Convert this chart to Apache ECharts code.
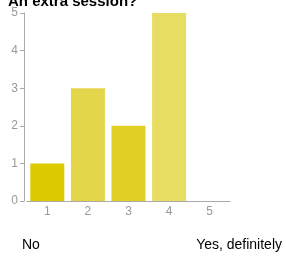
<!DOCTYPE html>
<html>
<head>
<meta charset="utf-8">
<script src="https://cdn.jsdelivr.net/npm/echarts@6/dist/echarts.min.js"></script>
<style>
  html, body { margin: 0; padding: 0; background: #fff; }
  #chart { width: 286px; height: 256px; }
</style>
</head>
<body>
<div id="chart"></div>
<script>
// 数据
var categories = ['1', '2', '3', '4', '5'];
var counts = [1, 3, 2, 5, 0];
var barColors = ['#dccb00', '#e4d64a', '#e0d024', '#e8dd63', '#e8dd63'];
var yTicks = [0, 1, 2, 3, 4, 5];
var scaleLabels = ['No', 'Yes, definitely'];

var _chart = echarts.init(document.getElementById('chart'));

var data_temp = [];
for (var i = 0; i < counts.length; i++) {
    data_temp.push({
        value: counts[i],
        itemStyle: { color: barColors[i] }
    });
}

var option = {
    animation: false,
    title: {
        text: 'An extra session?',
        left: 3,
        top: -11,
        textStyle: { fontFamily: 'Liberation Sans', fontWeight: 'bold', fontSize: 15, color: '#000' }
    },
    grid: { left: 27, right: 56, top: 13, bottom: 55 },
    xAxis: {
        type: 'category',
        data: categories,
        axisLine: { lineStyle: { color: '#aaa', width: 1 } },
        axisTick: { alignWithLabel: true, length: 4, lineStyle: { color: '#aaa' } },
        axisLabel: { color: '#999', fontFamily: 'Liberation Sans', fontSize: 12, margin: 5 }
    },
    yAxis: {
        type: 'value',
        min: yTicks[0],
        max: yTicks[yTicks.length - 1],
        interval: 1,
        offset: 3,
        axisLine: { show: true, lineStyle: { color: '#aaa', width: 1 } },
        axisTick: { show: true, length: 4, lineStyle: { color: '#aaa' } },
        axisLabel: { color: '#999', fontFamily: 'Liberation Sans', fontSize: 12, margin: 6 },
        splitLine: { show: false }
    },
    series: [{
        type: 'bar',
        data: data_temp,
        barWidth: 34
    }],
    graphic: [
        {
            type: 'text', left: 22, top: 238,
            style: { text: scaleLabels[0], font: '14px "Liberation Sans"', fill: '#000' }
        },
        {
            type: 'text', right: 4, top: 238,
            style: { text: scaleLabels[1], font: '14px "Liberation Sans"', fill: '#000' }
        }
    ]
};

_chart.setOption(option);
</script>
</body>
</html>
